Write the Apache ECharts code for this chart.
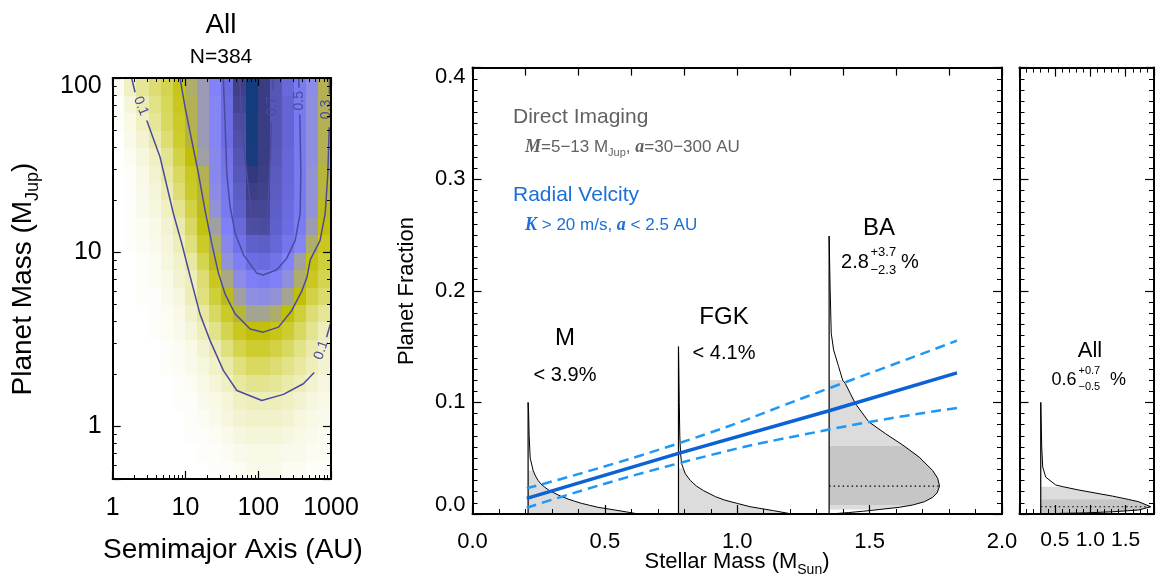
<!DOCTYPE html>
<html>
<head>
<meta charset="utf-8">
<title>Giant planet occurrence</title>
<script src="https://cdn.jsdelivr.net/npm/echarts@6.0.0/dist/echarts.min.js"></script>
<style>
  html, body { margin: 0; padding: 0; background: #ffffff; }
  #chart { width: 1162px; height: 576px; }
</style>
</head>
<body>
<div id="chart"></div>
<script>
const FONT = "'Liberation Sans', Arial, Helvetica, sans-serif";
const SERIF = "'Liberation Serif', 'Times New Roman', serif";

// ---------- occurrence map: semimajor axis vs planet mass ----------
const smaEdges = [1, 1.468, 2.154, 3.162, 4.642, 6.813, 10, 14.68, 21.54, 31.62, 46.42, 68.13, 100, 146.8, 215.4, 316.2, 464.2, 681.3, 1000];
const massEdges = [0.5, 0.631, 0.794, 1.0, 1.259, 1.585, 1.995, 2.512, 3.162, 3.981, 5.012, 6.31, 7.943, 10, 12.59, 15.85, 19.95, 25.12, 31.62, 39.81, 50.12, 63.1, 79.43, 100];
// one row per mass bin (low to high), one value per semimajor-axis bin
const occurrence = [
  [0,0,0,0,0,0,0,0,0.01,0.01,0.02,0.03,0.03,0.03,0.02,0.02,0.01,0.01],
  [0,0,0,0,0,0,0,0.01,0.01,0.02,0.03,0.04,0.04,0.04,0.03,0.03,0.02,0.02],
  [0,0,0,0,0,0,0.01,0.01,0.02,0.03,0.05,0.06,0.06,0.06,0.05,0.04,0.03,0.02],
  [0,0,0,0,0,0,0.01,0.02,0.03,0.05,0.07,0.08,0.08,0.08,0.07,0.05,0.04,0.03],
  [0,0,0,0,0,0.01,0.01,0.03,0.04,0.06,0.09,0.10,0.10,0.10,0.09,0.07,0.05,0.04],
  [0,0,0,0,0,0.01,0.02,0.04,0.06,0.09,0.13,0.15,0.15,0.14,0.12,0.10,0.07,0.05],
  [0,0,0,0,0.01,0.02,0.03,0.05,0.08,0.12,0.17,0.20,0.20,0.18,0.16,0.13,0.10,0.07],
  [0,0,0,0,0.01,0.02,0.04,0.07,0.11,0.17,0.22,0.25,0.25,0.23,0.20,0.16,0.12,0.08],
  [0,0,0,0.01,0.02,0.03,0.06,0.10,0.16,0.22,0.27,0.30,0.30,0.28,0.25,0.20,0.15,0.10],
  [0,0,0,0.01,0.02,0.04,0.08,0.13,0.20,0.26,0.32,0.36,0.36,0.34,0.30,0.24,0.18,0.14],
  [0,0,0.01,0.01,0.03,0.05,0.10,0.17,0.24,0.31,0.37,0.41,0.42,0.40,0.36,0.30,0.23,0.19],
  [0,0,0.01,0.02,0.04,0.07,0.10,0.18,0.27,0.35,0.42,0.47,0.48,0.46,0.41,0.34,0.27,0.22],
  [0,0,0.01,0.02,0.05,0.08,0.13,0.22,0.31,0.40,0.47,0.54,0.55,0.52,0.45,0.37,0.29,0.24],
  [0,0.01,0.02,0.03,0.06,0.10,0.17,0.26,0.34,0.43,0.52,0.60,0.61,0.57,0.51,0.44,0.34,0.27],
  [0,0.01,0.02,0.04,0.07,0.12,0.20,0.29,0.37,0.46,0.56,0.69,0.70,0.60,0.54,0.48,0.38,0.30],
  [0,0.01,0.03,0.05,0.09,0.15,0.23,0.31,0.40,0.49,0.60,0.73,0.73,0.61,0.55,0.49,0.40,0.31],
  [0,0.01,0.03,0.06,0.11,0.18,0.26,0.32,0.42,0.50,0.62,0.77,0.75,0.62,0.56,0.49,0.40,0.32],
  [0,0.01,0.04,0.07,0.13,0.20,0.27,0.33,0.43,0.51,0.64,0.80,0.77,0.63,0.57,0.49,0.40,0.32],
  [0,0.02,0.05,0.09,0.15,0.23,0.30,0.37,0.43,0.52,0.66,0.86,0.78,0.64,0.57,0.49,0.41,0.33],
  [0,0.03,0.07,0.12,0.18,0.25,0.32,0.38,0.44,0.54,0.68,0.87,0.78,0.65,0.58,0.49,0.41,0.33],
  [0.01,0.04,0.09,0.14,0.20,0.26,0.33,0.38,0.44,0.54,0.70,0.87,0.78,0.65,0.58,0.49,0.41,0.33],
  [0.01,0.06,0.11,0.16,0.21,0.27,0.33,0.38,0.44,0.54,0.74,0.88,0.78,0.65,0.58,0.49,0.41,0.33],
  [0.02,0.09,0.14,0.18,0.22,0.28,0.34,0.38,0.45,0.55,0.76,0.88,0.78,0.65,0.56,0.49,0.42,0.33]
];
const occurrenceColors = ['#ffffff', '#f7f7e0', '#eeeebb', '#e4e490', '#d9d962', '#cdcd30', '#c2bf08',
  '#a9a882', '#9292d8', '#8282fa', '#7777ef', '#6b6be0', '#6060cc', '#5656b6', '#4c4ca0', '#42428c',
  '#34397f', '#1e3b7e', '#0a3d7d', '#043b78', '#003670'];

// contour runs of [a (AU), M (M_Jup)]; gaps leave room for the level labels
const contour01 = [
  [[1.82, 100], [2.03, 82.8]],
  [[2.94, 57.0], [4.47, 35.2], [6.82, 16.7], [8.91, 11.2], [11.6, 7.26], [15.8, 4.43], [21.8, 3.11], [33.1, 2.10], [50.8, 1.61], [112, 1.41], [222, 1.53], [417, 1.76], [589, 2.04]],
  [[871, 3.26], [980, 3.88]]
];
const contour03 = [
  [[8.43, 100], [9.86, 68.1], [12.2, 43.9], [15.1, 28.2], [18.6, 17.4], [23.0, 11.2], [28.4, 7.59], [35.1, 5.75], [48.1, 4.43], [77.4, 3.63], [117, 3.48], [190, 3.72], [288, 4.62], [398, 6.01], [466, 7.16], [518, 9.04], [708, 11.7], [832, 16.7], [905, 28.2], [945, 52.2]],
  [[952, 81], [955, 100]]
];
const contour05 = [
  [[33.1, 100], [35.1, 54.6], [37.0, 28.2], [41.1, 18.2], [48.1, 12.9], [62.7, 9.66], [95.5, 7.59], [117, 7.41], [180, 7.93], [247, 9.25], [322, 11.7], [377, 16.7], [385, 28.2], [377, 47.9], [372, 61.7]],
  [[363, 88], [359, 100]]
];
const contour07 = [
  [[55.8, 100], [59.4, 54.6], [69.7, 28.2], [81.7, 16.0], [90.6, 13.5], [120.5, 13.5], [134, 16.7], [143, 28.2], [151, 47.9], [151.4, 56.2]],
  [[158, 85.1], [158, 100]]
];
const contourLabelText = ['0.1', '0.1', '0.3', '0.5', '0.7'];
const contourLabelSma = [2.44, 735, 850, 367, 155];
const contourLabelMass = [69, 2.75, 66, 74, 69];
const contourLabelAngle = [-68, 71, 90, 90, 90];

// ---------- planet fraction vs stellar mass ----------
const binMass = [0.21, 0.778, 1.347];   // M, FGK, BA
const allMass = 0.30;

const mFrac = [0.100, 0.090, 0.070, 0.050, 0.039, 0.034, 0.030, 0.027, 0.024, 0.021, 0.0185, 0.016, 0.0134, 0.0115, 0.0096, 0.0078, 0.0060, 0.0036, 0.0018, 0.0006, 0];
const mDens = [0, 0.002, 0.004, 0.008, 0.019, 0.028, 0.038, 0.048, 0.063, 0.080, 0.101, 0.123, 0.151, 0.175, 0.201, 0.232, 0.264, 0.327, 0.373, 0.403, 0.408];
const mLimit = [0, 0.039];

const fgkFrac = [0.150, 0.100, 0.070, 0.054, 0.045, 0.041, 0.036, 0.030, 0.025, 0.021, 0.0155, 0.0125, 0.0095, 0.0065, 0.003, 0.0006, 0];
const fgkDens = [0, 0.003, 0.005, 0.008, 0.012, 0.018, 0.026, 0.045, 0.068, 0.094, 0.140, 0.174, 0.222, 0.271, 0.359, 0.415, 0.419];
const fgkLimit = [0, 0.041];

const baFrac = [0.249, 0.200, 0.162, 0.147, 0.132, 0.120, 0.117, 0.108, 0.099, 0.0825, 0.072, 0.061, 0.051, 0.039, 0.032, 0.025, 0.019, 0.0149, 0.011, 0.0088, 0.008, 0.006, 0.0043, 0.004, 0.0025, 0.0013, 0];
const baDens = [0, 0.004, 0.008, 0.017, 0.036, 0.051, 0.061, 0.080, 0.099, 0.150, 0.213, 0.283, 0.340, 0.391, 0.410, 0.417, 0.408, 0.391, 0.360, 0.327, 0.315, 0.265, 0.200, 0.189, 0.130, 0.074, 0.004];
const baOuter = [0.004, 0.120];
const baInner = [0.008, 0.061];
const baPeak = 0.025;

const allFrac = [0.100, 0.060, 0.042, 0.033, 0.026, 0.0245, 0.0215, 0.016, 0.013, 0.011, 0.0065, 0.0036, 0.002, 0.001, 0.0006, 0];
const allDens = [0, 0.014, 0.028, 0.071, 0.212, 0.311, 0.537, 1.017, 1.243, 1.384, 1.554, 1.384, 1.017, 0.636, 0.311, 0];
const allOuter = [0, 0.0245];
const allInner = [0.001, 0.013];
const allPeak = 0.0065;

// radial-velocity trend with its envelope
const rvMass = [0.205, 0.778, 1.347, 1.83];
const rvFit = [0.014, 0.0543, 0.0925, 0.1265];
const rvHigh = [0.023, 0.0633, 0.1127, 0.1553];
const rvLow = [0.0056, 0.0454, 0.0757, 0.095];

// ---------- helpers ----------
const LIGHT = '#dcdcdc', DARK = '#c6c6c6';

function zip(xs, ys) { return xs.map((x, i) => [x, ys[i]]); }

function posterior(x0, frac, dens, bands, peak) {
  return function (params, api) {
    const at = (f, w) => api.coord([x0 + w, f]);
    const children = [];
    bands.forEach(function (b) {
      const pts = [];
      frac.forEach(function (f, k) {
        if (f <= b[1] + 1e-9 && f >= b[0] - 1e-9) pts.push(at(f, dens[k]));
      });
      pts.push(at(b[0], 0));
      pts.push(at(b[1], 0));
      children.push({ type: 'polygon', shape: { points: pts }, style: { fill: b[2] } });
    });
    if (peak != null) {
      const k = frac.indexOf(peak);
      const p0 = at(peak, 0), p1 = at(peak, dens[k]);
      children.push({ type: 'line', shape: { x1: p0[0], y1: p0[1], x2: p1[0], y2: p1[1] },
        style: { stroke: '#000', lineWidth: 1.2, lineDash: [1.5, 3] } });
    }
    children.push({ type: 'polyline', shape: { points: frac.map((f, k) => at(f, dens[k])) },
      style: { stroke: '#000', lineWidth: 1, fill: null } });
    const b0 = at(0, 0), t0 = at(frac[0], 0);
    children.push({ type: 'line', shape: { x1: b0[0], y1: b0[1], x2: t0[0], y2: t0[1] },
      style: { stroke: '#000', lineWidth: 1.2 } });
    return { type: 'group', children: children };
  };
}

const TICK = { show: true, inside: true, length: 9, lineStyle: { color: '#000', width: 1.2 } };
const LOGTICK = { show: true, inside: true, length: 8, lineStyle: { color: '#000', width: 1.2 } };
function minor(split, len) {
  return { show: true, splitNumber: split, length: len, lineStyle: { color: '#000', width: 1 } };
}
// every panel is boxed: axes on all four sides, drawn above the data
function boxAxis(base) {
  return Object.assign({
    z: 10,
    axisLine: { show: true, onZero: false, lineStyle: { color: '#000', width: 2 } },
    axisTick: TICK,
    minorTick: minor(5, 5),
    splitLine: { show: false },
    minorSplitLine: { show: false },
    axisLabel: { show: false }
  }, base);
}

// ---------- series ----------
const cells = [];
for (let j = 0; j < massEdges.length - 1; j++) {
  for (let i = 0; i < smaEdges.length - 1; i++) {
    cells.push([smaEdges[i], smaEdges[i + 1], massEdges[j], massEdges[j + 1], occurrence[j][i]]);
  }
}

const series = [];
series.push({
  type: 'custom', xAxisIndex: 0, yAxisIndex: 0, data: cells, encode: { x: [0, 1], y: [2, 3] },
  silent: true, clip: true, z: 1,
  renderItem: function (params, api) {
    const p0 = api.coord([api.value(0), api.value(2)]);
    const p1 = api.coord([api.value(1), api.value(3)]);
    const x = Math.floor(Math.min(p0[0], p1[0])), x2 = Math.ceil(Math.max(p0[0], p1[0]));
    const y = Math.floor(Math.min(p0[1], p1[1])), y2 = Math.ceil(Math.max(p0[1], p1[1]));
    return { type: 'rect', shape: { x: x, y: y, width: x2 - x, height: y2 - y },
      style: { fill: api.visual('color') } };
  }
});

[contour01, contour03, contour05, contour07].forEach(function (runs) {
  runs.forEach(function (run) {
    series.push({ type: 'line', xAxisIndex: 0, yAxisIndex: 0, data: run, symbol: 'none', silent: true,
      lineStyle: { color: '#4b4b9e', width: 1.5 }, z: 3 });
  });
});

series.push({
  type: 'custom', xAxisIndex: 0, yAxisIndex: 0, silent: true, z: 4,
  data: zip(contourLabelSma, contourLabelMass),
  renderItem: function (params, api) {
    const i = params.dataIndex;
    const p = api.coord([api.value(0), api.value(1)]);
    return { type: 'text', x: p[0], y: p[1], rotation: contourLabelAngle[i] * Math.PI / 180,
      style: { text: contourLabelText[i], fill: '#4b4b9e', fontSize: 14, fontFamily: FONT,
        align: 'center', verticalAlign: 'middle' } };
  }
});

series.push({ type: 'custom', xAxisIndex: 2, yAxisIndex: 2, data: [[binMass[0], 0]], silent: true, z: 2,
  renderItem: posterior(binMass[0], mFrac, mDens, [[mLimit[0], mLimit[1], LIGHT]], null) });
series.push({ type: 'custom', xAxisIndex: 2, yAxisIndex: 2, data: [[binMass[1], 0]], silent: true, z: 2,
  renderItem: posterior(binMass[1], fgkFrac, fgkDens, [[fgkLimit[0], fgkLimit[1], LIGHT]], null) });
series.push({ type: 'custom', xAxisIndex: 2, yAxisIndex: 2, data: [[binMass[2], 0]], silent: true, z: 2,
  renderItem: posterior(binMass[2], baFrac, baDens, [[baOuter[0], baOuter[1], LIGHT], [baInner[0], baInner[1], DARK]], baPeak) });
series.push({ type: 'custom', xAxisIndex: 4, yAxisIndex: 4, data: [[allMass, 0]], silent: true, z: 2,
  renderItem: posterior(allMass, allFrac, allDens, [[allOuter[0], allOuter[1], LIGHT], [allInner[0], allInner[1], DARK]], allPeak) });

series.push({ type: 'line', xAxisIndex: 2, yAxisIndex: 2, data: zip(rvMass, rvHigh), symbol: 'none', smooth: true,
  silent: true, z: 5, lineStyle: { color: '#1f98f5', width: 2.5, type: [10, 6] } });
series.push({ type: 'line', xAxisIndex: 2, yAxisIndex: 2, data: zip(rvMass, rvLow), symbol: 'none', smooth: true,
  silent: true, z: 5, lineStyle: { color: '#1f98f5', width: 2.5, type: [10, 6] } });
series.push({ type: 'line', xAxisIndex: 2, yAxisIndex: 2, data: zip(rvMass, rvFit), symbol: 'none',
  silent: true, z: 6, lineStyle: { color: '#0b62d4', width: 3.5 } });

// ---------- text ----------
function txt(x, y, text, size, extra) {
  return Object.assign({ type: 'text', x: x, y: y, silent: true,
    style: Object.assign({ text: text, fontSize: size, fontFamily: FONT, fill: '#000',
      align: 'center', verticalAlign: 'middle' }, (extra && extra.style) || {}) },
    (extra && extra.el) || {});
}
const subStyle = (size) => ({ fontSize: size, lineHeight: size, fontFamily: FONT, verticalAlign: 'bottom' });
const GRAY = '#626262', BLUE = '#1a6fd8';

const graphics = [
  txt(221, 25, 'All', 28),
  txt(221, 57, 'N=384', 21),
  txt(23, 279, 'Planet Mass (M{sub|Jup})', 28, { el: { rotation: Math.PI / 2 },
    style: { lineHeight: 38, rich: { sub: subStyle(18) } } }),
  txt(233, 550, 'Semimajor Axis (AU)', 28),
  txt(407, 291, 'Planet Fraction', 22, { el: { rotation: Math.PI / 2 } }),
  txt(737, 562, 'Stellar Mass (M{sub|Sun})', 22, { style: { lineHeight: 30, rich: { sub: subStyle(14) } } }),

  txt(513, 117, 'Direct Imaging', 21, { style: { align: 'left', fill: GRAY } }),
  txt(525, 147, '{bi|M}=5\u221213 M{sub|Jup}, {bi|a}=30\u2212300 AU', 17, { style: { align: 'left', fill: GRAY, lineHeight: 23,
    rich: { bi: { fontFamily: SERIF, fontStyle: 'italic', fontWeight: 'bold', fontSize: 18, fill: GRAY }, sub: Object.assign(subStyle(11), { fill: GRAY }) } } }),
  txt(513, 195, 'Radial Velcity', 21, { style: { align: 'left', fill: BLUE } }),
  txt(525, 225, '{bi|K} > 20 m/s, {bi|a} < 2.5 AU', 17, { style: { align: 'left', fill: BLUE,
    rich: { bi: { fontFamily: SERIF, fontStyle: 'italic', fontWeight: 'bold', fontSize: 18, fill: BLUE } } } }),

  txt(565, 338, 'M', 24),
  txt(565, 375, '< 3.9%', 20),
  txt(724, 317, 'FGK', 24),
  txt(724, 353, '< 4.1%', 20),
  txt(879, 228, 'BA', 24),
  txt(855, 262, '2.8', 20),
  txt(870.5, 252, '+3.7', 13, { style: { align: 'left' } }),
  txt(870.5, 270.5, '\u22122.3', 13, { style: { align: 'left' } }),
  txt(910, 262.5, '%', 20),

  txt(1090, 351, 'All', 22),
  txt(1064, 380, '0.6', 18),
  txt(1078.5, 371, '+0.7', 11, { style: { align: 'left' } }),
  txt(1078.5, 387, '\u22120.5', 11, { style: { align: 'left' } }),
  txt(1118, 380.5, '%', 18)
];

// ---------- chart ----------
const chart = echarts.init(document.getElementById('chart'), null, { renderer: 'canvas' });
chart.setOption({
  animation: false,
  backgroundColor: '#ffffff',
  textStyle: { fontFamily: FONT },
  grid: [
    { left: 112.7, top: 78, width: 218.3, height: 401 },
    { left: 472.5, top: 67.6, width: 529.5, height: 446.4 },
    { left: 1019.5, top: 67.6, width: 134.5, height: 446.4 }
  ],
  visualMap: {
    type: 'continuous', show: false, min: 0, max: 1, dimension: 4, seriesIndex: 0,
    inRange: { color: occurrenceColors }
  },
  xAxis: [
    boxAxis({ gridIndex: 0, type: 'log', min: 1, max: 1000, position: 'bottom',
      axisTick: LOGTICK, minorTick: minor(9, 4),
      axisLabel: { show: true, fontSize: 25, color: '#000', margin: 17, fontFamily: FONT, formatter: (v) => String(v) } }),
    boxAxis({ gridIndex: 0, type: 'log', min: 1, max: 1000, position: 'top',
      axisTick: LOGTICK, minorTick: minor(9, 4) }),
    boxAxis({ gridIndex: 1, type: 'value', min: 0, max: 2, interval: 0.5, position: 'bottom',
      axisLabel: { show: true, fontSize: 22, color: '#000', margin: 17, fontFamily: FONT, formatter: (v) => v.toFixed(1) } }),
    boxAxis({ gridIndex: 1, type: 'value', min: 0, max: 2, interval: 0.2, position: 'top',
      axisTick: { show: true, inside: true, length: 8, lineStyle: { color: '#000', width: 1.2 } },
      minorTick: { show: false } }),
    boxAxis({ gridIndex: 2, type: 'value', min: 0, max: 1.9, interval: 0.5, position: 'bottom',
      axisLabel: { show: true, fontSize: 21, color: '#000', margin: 16, fontFamily: FONT,
        showMinLabel: false, showMaxLabel: false, formatter: (v) => v.toFixed(1) } }),
    boxAxis({ gridIndex: 2, type: 'value', min: 0, max: 1.9, interval: 0.5, position: 'top' })
  ],
  yAxis: [
    boxAxis({ gridIndex: 0, type: 'log', min: 0.5, max: 100, position: 'left',
      axisTick: LOGTICK, minorTick: minor(9, 4),
      axisLabel: { show: true, fontSize: 25, color: '#000', margin: 11, fontFamily: FONT, showMinLabel: false,
        formatter: (v) => (v >= 100 ? '{top|100}' : String(v)),
        rich: { top: { fontSize: 25, fontFamily: FONT, color: '#000', padding: [16, 0, 0, 0] } } } }),
    boxAxis({ gridIndex: 0, type: 'log', min: 0.5, max: 100, position: 'right',
      axisTick: LOGTICK, minorTick: minor(9, 4) }),
    boxAxis({ gridIndex: 1, type: 'value', min: 0, max: 0.4, interval: 0.1, position: 'left',
      minorTick: minor(10, 5),
      axisLabel: { show: true, fontSize: 22, color: '#000', margin: 7, fontFamily: FONT,
        formatter: function (v) {
          if (Math.abs(v) < 1e-9) return '{bot|0.0}';
          if (Math.abs(v - 0.4) < 1e-9) return '{top|0.4}';
          return v.toFixed(1);
        },
        rich: {
          top: { fontSize: 22, fontFamily: FONT, color: '#000', padding: [19, 0, 0, 0] },
          bot: { fontSize: 22, fontFamily: FONT, color: '#000', padding: [0, 0, 18, 0] }
        } } }),
    boxAxis({ gridIndex: 1, type: 'value', min: 0, max: 0.4, interval: 0.1, position: 'right', minorTick: minor(10, 5) }),
    boxAxis({ gridIndex: 2, type: 'value', min: 0, max: 0.4, interval: 0.1, position: 'left', minorTick: minor(10, 5) }),
    boxAxis({ gridIndex: 2, type: 'value', min: 0, max: 0.4, interval: 0.1, position: 'right', minorTick: minor(10, 5) })
  ],
  graphic: { elements: graphics },
  series: series
});
</script>
</body>
</html>
